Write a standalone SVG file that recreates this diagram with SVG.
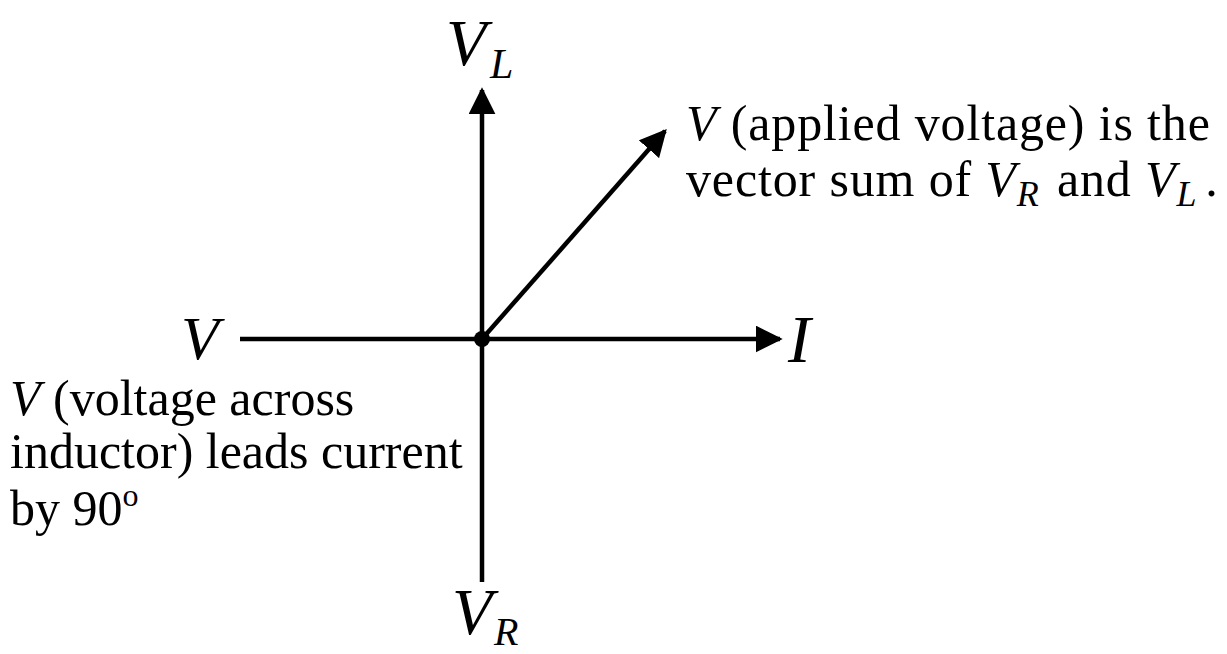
<svg xmlns="http://www.w3.org/2000/svg" width="1227" height="654" viewBox="0 0 1227 654">
<style>
.ax{stroke:#000;stroke-width:4.5;fill:none}
.i{font-style:italic}
.ls{letter-spacing:0.85px}
</style>
<defs>
<marker id="ah" viewBox="0 0 10 10" refX="9" refY="5" markerWidth="6" markerHeight="6" markerUnits="strokeWidth" orient="auto">
<path d="M0,0 L10,5 L0,10 z" fill="#000"/>
</marker>
</defs>
<rect width="1227" height="654" fill="#fff"/>
<g id="connectors">
<line class="ax" x1="240" y1="339" x2="780" y2="339" marker-end="url(#ah)"/>
<line class="ax" x1="482" y1="582" x2="482" y2="90" marker-end="url(#ah)"/>
<line class="ax" x1="482" y1="339" x2="665" y2="131" marker-end="url(#ah)"/>
</g>
<g id="origin"><circle cx="482" cy="339" r="8" fill="#000"/></g>
<g font-family="Liberation Serif, Times New Roman, serif" fill="#000">
<g id="VL"><text class="i" x="446" y="65" font-size="66">V</text><text class="i" x="490" y="78" font-size="42">L</text></g>
<g id="VR"><text class="i" x="452" y="634" font-size="66">V</text><text class="i" x="494" y="645" font-size="40">R</text></g>
<g id="Vleft"><text class="i" x="181" y="359" font-size="62">V</text></g>
<g id="I"><text class="i" x="788" y="362" font-size="68">I</text></g>
<g id="applied">
<text class="ls" x="686" y="140" font-size="50"><tspan class="i">V</tspan> (applied voltage) is the</text>
<text class="ls" x="686" y="196" font-size="50">vector sum of <tspan class="i">V</tspan><tspan class="i" font-size="36" dy="10">R</tspan><tspan dy="-10" dx="4"> and </tspan><tspan class="i">V</tspan><tspan class="i" font-size="36" dy="10">L</tspan><tspan dy="-10" dx="8">.</tspan></text>
</g>
<g id="inductor">
<text x="10" y="415" font-size="50"><tspan class="i">V</tspan> (voltage across</text>
<text x="10" y="468" font-size="50">inductor) leads current</text>
<text x="10" y="525" font-size="50">by 90<tspan font-size="32" dy="-19">o</tspan></text>
</g>
</g>
</svg>
